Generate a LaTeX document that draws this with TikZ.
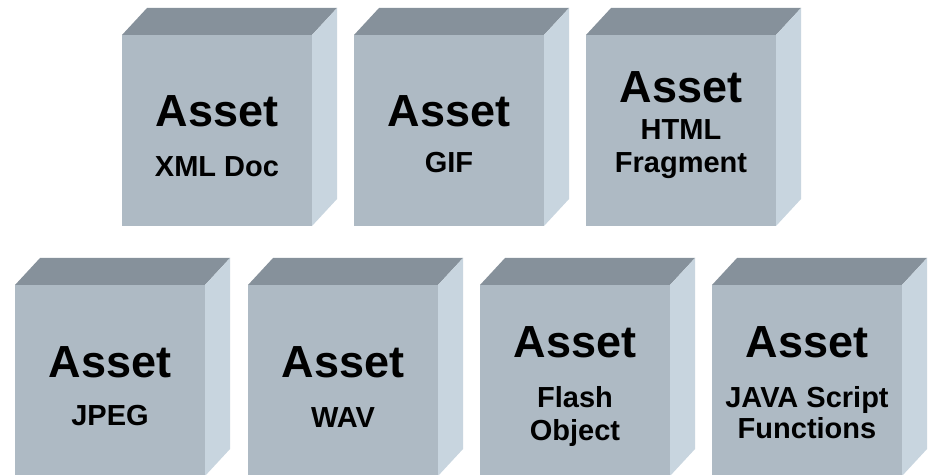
\documentclass[tikz,border=0pt]{standalone}
\usepackage{fontspec}
\usepackage{xcolor}
\usepackage{tikz}
\setmainfont{Liberation Sans}
\definecolor{front}{HTML}{AEBAC4}
\definecolor{topside}{HTML}{86919B}
\definecolor{rightside}{HTML}{C8D5DF}

\begin{document}
\begin{tikzpicture}[x=1pt,y=1pt,
    title/.style={anchor=base, inner sep=0pt, font=\bfseries\fontsize{45}{45}\selectfont},
    sub/.style={anchor=base, inner sep=0pt, font=\bfseries\fontsize{29}{33}\selectfont}]
\clip (0,0) rectangle (931,474);
\fill[white] (0,0) rectangle (931,474);

% Draw the cubes (front top left corner of each)
\foreach \x/\y in {122/439, 354/439, 586/439, 15/189, 248/189, 480/189, 712/189} {
    \fill[front] (\x,\y-191) rectangle (\x+190,\y);
    \fill[topside] (\x,\y) -- (\x+25,\y+27) -- (\x+215,\y+27) -- (\x+190,\y) -- cycle;
    \fill[rightside] (\x+190,\y) -- (\x+215,\y+27) -- (\x+215,\y-164) -- (\x+190,\y-191) -- cycle;
}

% Add the labels on the front faces
\node[title] (xmlT) at (217,347) {Asset};
\node[sub] (xmlS) at (217,297) {XML Doc};
\node[title] (gifT) at (449,347) {Asset};
\node[sub] (gifS) at (449,301) {GIF};
\node[title] (htmlT) at (681,371) {Asset};
\node[sub] (htmlS) at (681,334) {HTML};
\node[sub] (htmlS2) at (681,301) {Fragment};
\node[title] (jpegT) at (110,96) {Asset};
\node[sub] (jpegS) at (110,49) {JPEG};
\node[title] (wavT) at (343,96) {Asset};
\node[sub] (wavS) at (343,47) {WAV};
\node[title] (flashT) at (575,117) {Asset};
\node[sub] (flashS) at (575,67) {Flash};
\node[sub] (flashS2) at (575,34) {Object};
\node[title] (javaT) at (807,117) {Asset};
\node[sub] (javaS) at (807,67) {JAVA Script};
\node[sub] (javaS2) at (807,36) {Functions};
\end{tikzpicture}
\end{document}
